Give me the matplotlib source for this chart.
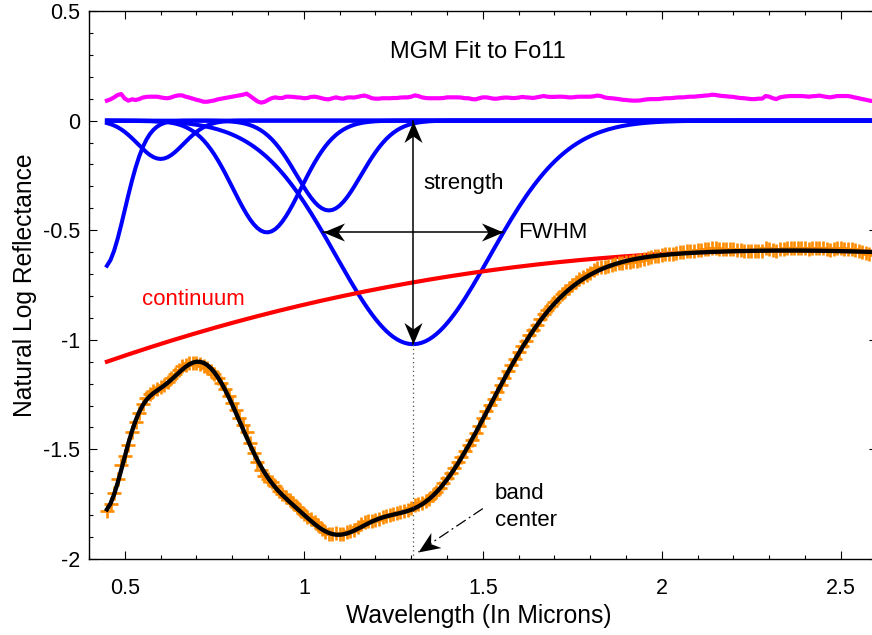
import numpy as np
import matplotlib.pyplot as plt
from matplotlib.path import Path
from matplotlib.markers import MarkerStyle
from matplotlib.transforms import Affine2D
from matplotlib.ticker import MultipleLocator, FuncFormatter

plt.rcParams['font.family'] = ['Liberation Sans', 'DejaVu Sans']
plt.rcParams['axes.unicode_minus'] = False

# spectrum sampling (microns)
wavelength = np.linspace(0.45, 2.60, 216)

# residual (data - fit), stored with the +0.1 plotting offset
residual = np.array([
    0.091, 0.097, 0.106, 0.117, 0.121, 0.100, 0.091, 0.097, 0.094, 0.098,
    0.105, 0.108, 0.109, 0.109, 0.109, 0.106, 0.103, 0.102, 0.106, 0.112,
    0.115, 0.115, 0.109, 0.105, 0.100, 0.095, 0.091, 0.086, 0.086, 0.089,
    0.092, 0.097, 0.100, 0.103, 0.106, 0.109, 0.112, 0.115, 0.118, 0.123,
    0.112, 0.100, 0.088, 0.082, 0.085, 0.094, 0.102, 0.106, 0.103, 0.103,
    0.109, 0.109, 0.108, 0.106, 0.105, 0.102, 0.103, 0.108, 0.109, 0.106,
    0.102, 0.098, 0.097, 0.102, 0.106, 0.102, 0.100, 0.105, 0.106, 0.105,
    0.108, 0.112, 0.114, 0.109, 0.102, 0.100, 0.100, 0.102, 0.102, 0.102,
    0.103, 0.103, 0.105, 0.106, 0.106, 0.109, 0.115, 0.112, 0.106, 0.103,
    0.102, 0.102, 0.102, 0.102, 0.103, 0.106, 0.106, 0.106, 0.106, 0.105,
    0.102, 0.102, 0.098, 0.097, 0.102, 0.106, 0.106, 0.103, 0.100, 0.100,
    0.103, 0.105, 0.105, 0.103, 0.103, 0.105, 0.108, 0.106, 0.105, 0.103,
    0.106, 0.109, 0.112, 0.109, 0.108, 0.108, 0.109, 0.109, 0.108, 0.106,
    0.106, 0.108, 0.109, 0.109, 0.109, 0.109, 0.111, 0.114, 0.112, 0.106,
    0.103, 0.102, 0.100, 0.098, 0.095, 0.094, 0.092, 0.091, 0.091, 0.092,
    0.095, 0.097, 0.098, 0.098, 0.098, 0.100, 0.102, 0.102, 0.103, 0.105,
    0.106, 0.106, 0.108, 0.109, 0.109, 0.111, 0.112, 0.114, 0.115, 0.118,
    0.117, 0.114, 0.112, 0.111, 0.109, 0.108, 0.105, 0.103, 0.102, 0.100,
    0.098, 0.098, 0.100, 0.100, 0.112, 0.109, 0.102, 0.098, 0.106, 0.109,
    0.111, 0.112, 0.112, 0.112, 0.112, 0.111, 0.109, 0.111, 0.112, 0.114,
    0.111, 0.108, 0.106, 0.109, 0.112, 0.112, 0.112, 0.112, 0.109, 0.105,
    0.102, 0.098, 0.095, 0.091, 0.089, 0.088,
])
resid_offset = 0.1

# MGM band parameters
band_center = [0.441, 0.600, 0.897, 1.070, 1.305]
band_fwhm = [0.139, 0.151, 0.224, 0.212, 0.505]
band_strength = [-0.67, -0.175, -0.51, -0.41, -1.02]

# continuum polynomial in wavelength (constant, linear, quadratic, cubic)
cont_coef = [-1.3911, 0.7294, -0.1876, 0.00926]

continuum = np.polyval(cont_coef[::-1], wavelength)
bands = []
for c, w, s in zip(band_center, band_fwhm, band_strength):
    sig = w / 2.3548
    bands.append(s * np.exp(-(wavelength - c) ** 2 / (2 * sig ** 2)))
fit = continuum + np.sum(bands, axis=0)
spectrum = fit + residual - resid_offset

fig = plt.figure(figsize=(8.72, 6.35), dpi=100)
ax = fig.add_axes([0.1021, 0.1197, 0.9032, 0.8630])
ax.set_xlim(0.4, 2.6)
ax.set_ylim(-2, 0.5)

ax.plot(wavelength, residual, color='#ff00ff', lw=3)
for b in bands:
    ax.plot(wavelength, b, color='#0000ff', lw=2.9)
ax.plot(wavelength, continuum, color='#ff0000', lw=3)
ax.plot(wavelength, spectrum, '+', color='#ff8c00', ms=10, mew=1.9)
ax.plot(wavelength, fit, color='k', lw=3.1)

# arrow heads drawn as rotated markers (tip at the point)
head = Path([(0, 0), (0.42, -1), (0, -0.7), (-0.42, -1), (0, 0)],
            [Path.MOVETO, Path.LINETO, Path.LINETO, Path.LINETO, Path.CLOSEPOLY])


def arrow_head(x, y, angle):
    m = MarkerStyle(head, transform=Affine2D().rotate_deg(angle))
    ax.plot([x], [y], marker=m, ms=31, color='k', mew=0, ls='none')


c5 = band_center[4]
s5 = band_strength[4]
w5 = band_fwhm[4]

# strength
ax.plot([c5, c5], [0, s5], color='k', lw=1.1)
arrow_head(c5, 0, 0)
arrow_head(c5, s5, 180)
# FWHM
ax.plot([c5 - w5 / 2, c5 + w5 / 2], [s5 / 2, s5 / 2], color='k', lw=1.1)
arrow_head(c5 - w5 / 2, s5 / 2, 90)
arrow_head(c5 + w5 / 2, s5 / 2, -90)
# band center
ax.plot([c5, c5], [s5, -2], color='0.3', lw=0.9, ls=(0, (1, 2.5)))
p0 = (1.50, -1.77)
p1 = (1.32, -1.967)
ax.plot([p0[0], p1[0]], [p0[1], p1[1]], color='k', lw=0.9,
        ls=(0, (9, 3, 1.5, 3)))
d0 = ax.transData.transform(p0)
d1 = ax.transData.transform(p1)
ang = np.degrees(np.arctan2(d1[1] - d0[1], d1[0] - d0[0]))
arrow_head(p1[0], p1[1], ang - 90)

ax.text(1.487, 0.313, 'MGM Fit to Fo11', ha='center', va='center', fontsize=17)
ax.text(0.548, -0.818, 'continuum', color='#ff0000', va='center', fontsize=16)
ax.text(1.333, -0.285, 'strength', va='center', fontsize=16)
ax.text(1.598, -0.51, 'FWHM', va='center', fontsize=16)
ax.text(1.534, -1.763, 'band\ncenter', va='center', fontsize=16, linespacing=1.4)

fmt = FuncFormatter(lambda v, p: '%g' % (round(v, 6) + 0.0))
ax.xaxis.set_major_locator(MultipleLocator(0.5))
ax.xaxis.set_minor_locator(MultipleLocator(0.1))
ax.yaxis.set_major_locator(MultipleLocator(0.5))
ax.yaxis.set_minor_locator(MultipleLocator(0.1))
ax.xaxis.set_major_formatter(fmt)
ax.yaxis.set_major_formatter(fmt)
ax.tick_params(which='both', direction='in', top=True, right=True, width=0.8)
ax.tick_params(which='major', length=6)
ax.tick_params(which='minor', length=3)
ax.tick_params(axis='x', pad=13.5, labelsize=15.5)
ax.tick_params(axis='y', pad=6.5, labelsize=15.5)
for sp in ax.spines.values():
    sp.set_linewidth(1.0)

ax.set_xlabel('Wavelength (In Microns)', fontsize=17.7)
ax.xaxis.set_label_coords(0.495, -0.082)
ax.set_ylabel('Natural Log Reflectance', fontsize=17.7)
ax.yaxis.set_label_coords(-0.066, 0.5)

fig.savefig('out.png', dpi=100)
